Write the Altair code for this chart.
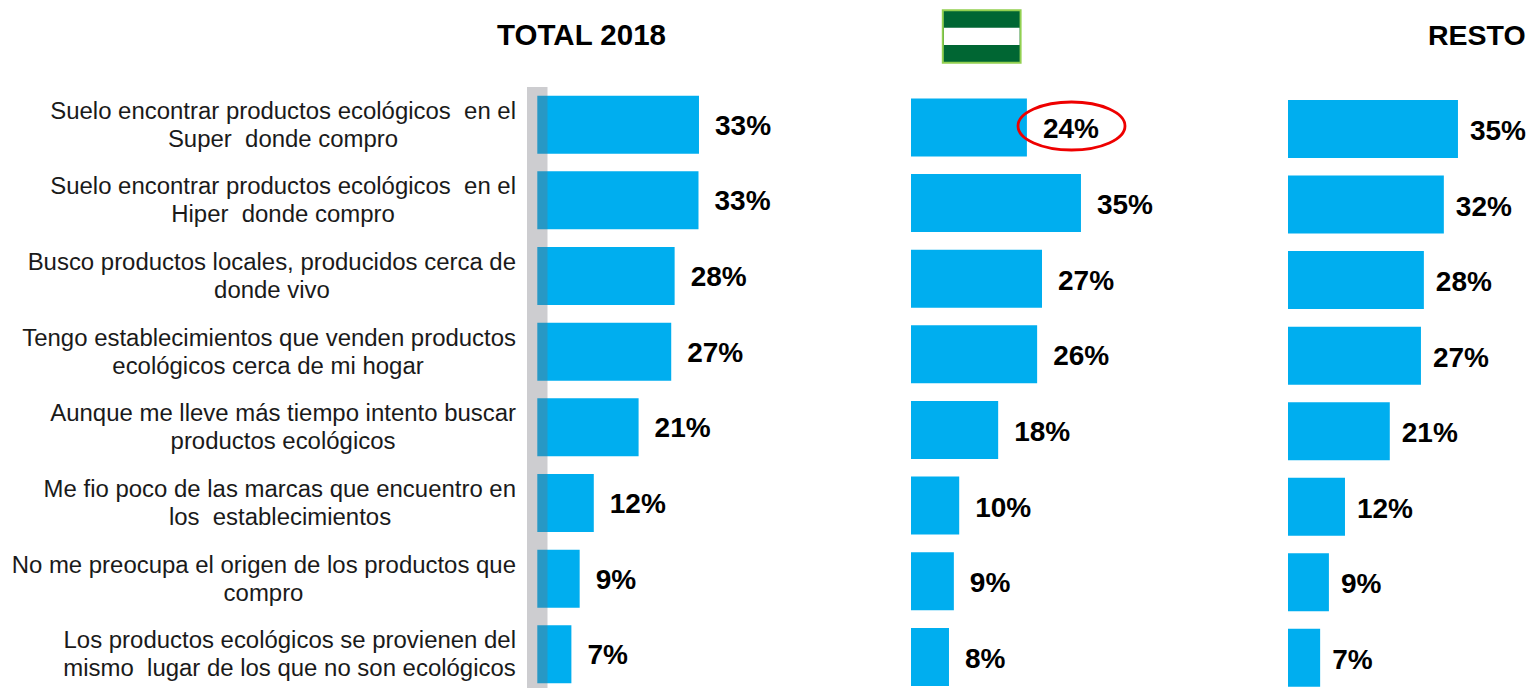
import altair as alt
import pandas as pd

line1 = [
    "Suelo encontrar productos ecológicos\u00a0 en el",
    "Suelo encontrar productos ecológicos\u00a0 en el",
    "Busco productos locales, producidos cerca de",
    "Tengo establecimientos que venden productos",
    "Aunque me lleve más tiempo intento buscar",
    "Me fio poco de las marcas que encuentro en",
    "No me preocupa el origen de los productos que",
    "Los productos ecológicos se provienen del",
]
line2 = [
    "Super\u00a0 donde compro",
    "Hiper\u00a0 donde compro",
    "donde vivo",
    "ecológicos cerca de mi hogar",
    "productos ecológicos",
    "los\u00a0 establecimientos",
    "compro",
    "mismo\u00a0 lugar de los que no son ecológicos",
]
total_values = [33.2, 33.1, 28.2, 27.5, 20.8, 11.6, 8.7, 7.0]
andalucia_values = [23.8, 34.9, 26.9, 25.9, 17.9, 9.9, 8.8, 7.8]
resto_values = [34.9, 32.0, 27.9, 27.3, 20.9, 11.7, 8.4, 6.6]
total_labels = ["33%", "33%", "28%", "27%", "21%", "12%", "9%", "7%"]
andalucia_labels = ["24%", "35%", "27%", "26%", "18%", "10%", "9%", "8%"]
resto_labels = ["35%", "32%", "28%", "27%", "21%", "12%", "9%", "7%"]

BLUE = "#00AEEF"
FONT = "Liberation Sans"
W, H = 1519, 680
rows = list(range(8))
# page x of the centre of each two-line label block (layout, not data)
block_centres = [283, 283, 272, 268, 283, 280, 263.5, 289.5]


def panel(values, labels, x0, y_top, y_bot, dy, dx=16):
    df = pd.DataFrame({"row": rows, "v": values, "lab": labels})
    x = alt.X("v:Q", axis=None,
              scale=alt.Scale(domain=[0, 100], range=[x0 - 8, x0 - 8 + 487]))
    y = alt.Y("row:O", axis=None,
              scale=alt.Scale(type="band", range=[y_top - 8, y_bot - 8],
                              paddingInner=0.23, paddingOuter=0))
    bars = alt.Chart(df).mark_bar(color=BLUE, size=58).encode(x=x, y=y)
    text = alt.Chart(df).mark_text(
        align="left", baseline="middle", dx=dx, dy=dy, font=FONT,
        fontSize=28, fontWeight="bold", color="#000000"
    ).encode(x=x, y=y, text="lab:N")
    return alt.layer(bars, text)


one = pd.DataFrame({"a": [0]})
cat_df = pd.DataFrame({"row": rows, "a": line1, "b": line2,
                       "c": [c - 8 for c in block_centres]})


def rect(x1, x2, y1, y2, fill, **kw):
    return alt.Chart(one).mark_rect(color=fill, **kw).encode(
        x=alt.value(x1 - 8), x2=alt.value(x2 - 8),
        y=alt.value(y1 - 8), y2=alt.value(y2 - 8))


def title(txt, px, py, align, size):
    return alt.Chart(one).mark_text(
        text=txt, font=FONT, fontSize=size, fontWeight="bold",
        align=align, baseline="middle", color="#000000"
    ).encode(x=alt.value(px - 8), y=alt.value(py - 8))


row_y = alt.Y("row:O", axis=None,
              scale=alt.Scale(type="band", range=[87.5, 675.5],
                              paddingInner=0.23, paddingOuter=0))
cat_top = alt.Chart(cat_df).mark_text(
    align="right", baseline="middle", font=FONT, fontSize=23.95, dy=-13,
    color="#1a1a1a"
).encode(x=alt.value(516 - 8), y=row_y, text="a:N")
cat_bottom = alt.Chart(cat_df).mark_text(
    align="center", baseline="middle", font=FONT, fontSize=23.95, dy=15,
    color="#1a1a1a"
).encode(x=alt.X("c:Q", axis=None, scale=None), y=row_y, text="b:N")

ellipse = alt.Chart(one).mark_point(
    shape="M-1,0A1,0.449,0,1,1,1,0A1,0.449,0,1,1,-1,0Z",
    size=11449, filled=False, stroke="#EE0000", strokeWidth=2.8, opacity=1
).encode(x=alt.value(1071.5 - 8), y=alt.value(126 - 8))

chart = alt.layer(
    panel(total_values, total_labels, 537.3, 95.5, 683.5, 2),
    rect(527, 547.5, 87, 690, "#6F6F78", opacity=0.35),
    panel(andalucia_values, andalucia_labels, 911, 98.3, 686, 3),
    panel(resto_values, resto_labels, 1288, 100, 686.8, 3, dx=12),
    alt.layer(cat_top, cat_bottom),
    title("TOTAL 2018", 581.5, 36, "center", 29.5),
    title("RESTO", 1428, 36, "left", 28.5),
    rect(942.8, 1020.6, 10.3, 62.8, "#006633", stroke="#92D050", strokeWidth=2),
    rect(944, 1019.5, 27.7, 45, "#FFFFFF"),
    ellipse,
).resolve_scale(x="independent", y="independent").properties(
    width=W, height=H, padding=0,
    autosize=alt.AutoSizeParams(type="none"),
    background="#FFFFFF",
).configure_view(stroke=None)

chart.save("out.html", embed_options={"renderer": "svg", "actions": False})
